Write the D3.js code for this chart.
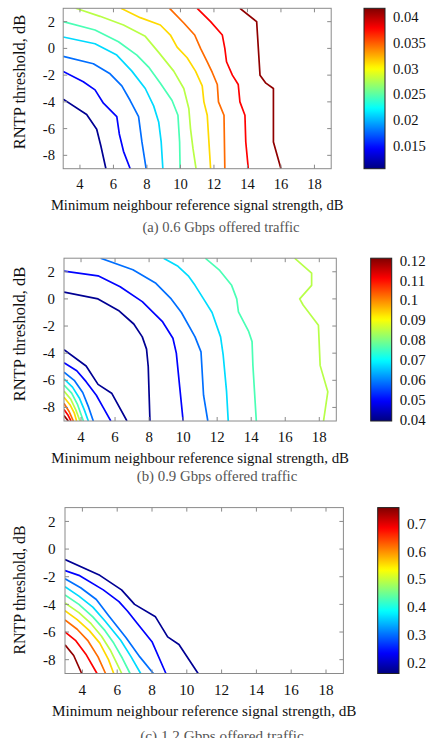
<!DOCTYPE html>
<html><head><meta charset="utf-8">
<script src="https://cdn.jsdelivr.net/npm/d3@7/dist/d3.min.js"></script>
<style>body{margin:0;background:#fff}svg{display:block}text{font-family:"Liberation Serif","Times New Roman",serif}</style>
</head><body><svg id="chart" width="439" height="738"></svg>
<script>
// ---------- data ----------
const xTicks = [4, 6, 8, 10, 12, 14, 16, 18];
const yTicks = [-8, -6, -4, -2, 0, 2];
const xDomain = [3, 19];
const yDomain = [-9, 3];
const xLabel = "Minimum neighbour reference signal strength, dB";
const yLabel = "RNTP threshold, dB";

const aCaption = "(a) 0.6 Gbps offered traffic";
const aRange = [0.0105, 0.0418];
const aCbTicks = [0.015, 0.02, 0.025, 0.03, 0.035, 0.04];
const aLevels = [0.0111, 0.0145, 0.0178, 0.0211, 0.0245, 0.0279, 0.0312, 0.0346, 0.0379, 0.0413];
const aLines = [
  [[[3,-3.8],[4.4,-4.95],[5,-6.05],[5.25,-7.3],[5.55,-9]]],
  [[[3,-1.72],[4.2,-2.5],[4.9,-3.1],[5.4,-4.1],[6.2,-5.1],[6.35,-6.4],[6.6,-7.7],[7,-9]]],
  [[[3,-0.6],[4.8,-1.15],[5.8,-1.9],[6.5,-2.8],[7,-3.9],[7.5,-5.1],[7.7,-7],[7.95,-9]]],
  [[[3,0.85],[4.9,0.35],[6.2,-0.5],[7.1,-1.7],[7.9,-3],[8.4,-4.3],[8.7,-5.5],[8.85,-7],[8.95,-9]]],
  [[[3,2],[4.9,1.38],[6.3,0.5],[7.4,-0.5],[8.1,-1.4],[8.8,-2.6],[9.5,-3.9],[9.85,-5],[9.95,-7],[9.98,-9]]],
  [[[3.75,3],[5.2,2.4],[6.6,1.75],[7.9,0.9],[8.7,-0.3],[9.6,-1.7],[10.2,-3],[10.5,-4.5],[10.6,-6],[10.75,-7.5],[10.93,-9]]],
  [[[6.45,3],[7.6,2.3],[8.8,1.75],[9.4,1],[9.8,0.1],[10.4,-0.7],[10.9,-1.7],[11.3,-2.8],[11.4,-4],[11.6,-5],[11.8,-9]]],
  [[[9.35,3],[10.2,1.9],[10.85,1],[11.2,0],[11.6,-1],[11.9,-1.8],[12.2,-2.7],[12.27,-4],[12.6,-5],[12.65,-9]]],
  [[[11,3],[11.8,2],[12.5,1],[12.65,0],[12.75,-1],[13.1,-2],[13.45,-2.7],[13.55,-4],[13.85,-5],[13.9,-7],[14.05,-9]]],
  [[[13.55,3],[14.55,2],[14.6,1],[14.7,-1],[14.75,-2],[15.1,-2.6],[15.55,-3],[15.55,-7],[16,-9]]]
];

const bCaption = "(b) 0.9 Gbps offered traffic";
const bRange = [0.0395, 0.1212];
const bCbTicks = [0.04, 0.05, 0.06, 0.07, 0.08, 0.09, 0.1, 0.11, 0.12];
const bLevels = [0.0411, 0.0499, 0.0586, 0.0673, 0.0761, 0.0848, 0.0936, 0.1023, 0.1111, 0.1198];
const bLines = [
  [[[3,0.5],[5,0],[6.2,-0.85],[7.1,-1.85],[7.6,-2.8],[7.85,-3.7],[7.95,-5],[8,-7],[8.05,-9]],
   [[3,-3.75],[4.3,-4.95],[5,-6.3],[5.8,-6.95],[6.7,-9]]],
  [[[3,2.05],[5,1.7],[6.3,0.9],[7.6,-0.2],[8.8,-1.7],[9.4,-2.9],[9.6,-4],[9.8,-6.5],[10,-9]],
   [[3,-4.7],[3.75,-5.3],[4.3,-6.1],[4.9,-7.1],[5.3,-8],[5.75,-9]]],
  [[[5.15,3],[7.05,2.15],[8.4,1.15],[9.3,0],[9.9,-1],[10.7,-2.8],[11.05,-3.9],[11.2,-7.1],[11.45,-9]],
   [[3,-5.4],[3.6,-6],[4.1,-6.9],[4.45,-8],[4.72,-9]]],
  [[[8.85,3],[9.7,2.4],[10.3,1.7],[10.7,1],[11.2,0],[11.7,-1],[12.2,-2.8],[12.35,-4.1],[12.55,-6.8],[12.65,-9]],
   [[3,-5.9],[3.5,-6.5],[3.9,-7.3],[4.2,-8.2],[4.43,-9]]],
  [[[11.3,3],[12.15,2.1],[12.85,1],[13.15,0],[13.25,-0.95],[13.85,-2.4],[14.05,-3.15],[14.1,-4.9],[14.3,-9]],
   [[3,-6.35],[3.45,-6.95],[3.8,-7.8],[4.14,-9]]],
  [[[16.55,3],[17.55,1.9],[17.55,1],[16.85,0],[17.05,-0.45],[17.95,-1.95],[18.05,-4.9],[18.5,-6.85],[18.25,-9]],
   [[3,-6.8],[3.4,-7.4],[3.7,-8.2],[3.94,-9]]],
  [[[3,-7.25],[3.35,-7.8],[3.6,-8.4],[3.74,-9]]],
  [[[3,-7.7],[3.3,-8.3],[3.55,-9]]],
  [[[3,-8.15],[3.25,-8.6],[3.41,-9]]],
  [[[3,-8.6],[3.25,-9]]]
];

const cCaption = "(c) 1.2 Gbps offered traffic";
const cRange = [0.16, 0.758];
const cCbTicks = [0.2, 0.3, 0.4, 0.5, 0.6, 0.7];
const cLevels = [0.172, 0.236, 0.300, 0.363, 0.428, 0.492, 0.556, 0.620, 0.684, 0.748];
const cLines = [
  [[[3,-0.75],[5,-1.9],[6.25,-2.95],[7,-4],[8.2,-4.9],[8.9,-6.35],[9.55,-6.9],[10.65,-9]]],
  [[[3,-1.55],[3.8,-1.9],[5.2,-2.95],[6.1,-3.8],[6.6,-4.5],[7.1,-5.3],[8,-6.7],[8.8,-9]]],
  [[[3,-2.15],[3.9,-2.8],[4.8,-3.65],[5.5,-4.8],[6.5,-6.4],[7.3,-7.8],[8.08,-9]]],
  [[[3,-2.72],[3.8,-3.4],[4.6,-4.2],[5.3,-5.2],[6.2,-6.6],[6.8,-7.8],[7.35,-9]]],
  [[[3,-3.32],[3.8,-4.0],[4.6,-4.9],[5.3,-5.9],[5.8,-6.8],[6.3,-7.9],[6.74,-9]]],
  [[[3,-3.9],[3.8,-4.6],[4.5,-5.4],[5.1,-6.3],[5.6,-7.3],[5.95,-8.2],[6.26,-9]]],
  [[[3,-4.45],[3.7,-5.1],[4.4,-5.9],[5,-6.8],[5.5,-8],[5.8,-9]]],
  [[[3,-5.13],[3.7,-5.8],[4.3,-6.6],[4.9,-7.8],[5.33,-9]]],
  [[[3,-6],[3.6,-6.6],[4.2,-7.6],[4.84,-9]]],
  [[[3,-6.93],[3.5,-7.7],[3.96,-9]]]
];

// ---------- drawing ----------
function jet(t) {
  const c = v => Math.round(255 * Math.max(0, Math.min(1, v)));
  return `rgb(${c(1.5 - Math.abs(4*t - 3))},${c(1.5 - Math.abs(4*t - 2))},${c(1.5 - Math.abs(4*t - 1))})`;
}

const svg = d3.select("#chart");
const defs = svg.append("defs");
const grad = defs.append("linearGradient").attr("id", "jetgrad")
  .attr("x1", 0).attr("y1", 1).attr("x2", 0).attr("y2", 0);
d3.range(0, 1.0001, 0.02).forEach(t => grad.append("stop").attr("offset", t).attr("stop-color", jet(t)));

function panel(cfg) {
  const g = svg.append("g");
  const x = d3.scaleLinear().domain(xDomain).range([cfg.x0, cfg.x1]);
  const y = d3.scaleLinear().domain(yDomain).range([cfg.y1, cfg.y0]);
  const cs = d3.scaleLinear().domain(cfg.range).range([0, 1]);
  const fs = cfg.fs;
  const frame = "#8a8a8a";
  const tl = 4;

  // contour lines
  g.append("defs").append("clipPath").attr("id", "clip" + cfg.id)
    .append("rect").attr("x", cfg.x0).attr("y", cfg.y0).attr("width", cfg.x1 - cfg.x0).attr("height", cfg.y1 - cfg.y0);
  const line = d3.line().x(d => x(d[0])).y(d => y(d[1]));
  const lg = g.append("g").attr("clip-path", `url(#clip${cfg.id})`);
  cfg.lines.forEach((polys, i) => {
    polys.forEach(p => {
      lg.append("path").attr("d", line(p)).attr("fill", "none")
        .attr("stroke", jet(cs(cfg.levels[i]))).attr("stroke-width", 1.7)
        .attr("stroke-linejoin", "round");
    });
  });

  // frame + inward ticks
  g.append("rect").attr("x", cfg.x0).attr("y", cfg.y0).attr("width", cfg.x1 - cfg.x0).attr("height", cfg.y1 - cfg.y0)
    .attr("fill", "none").attr("stroke", frame).attr("stroke-width", 1);
  xTicks.forEach(v => {
    g.append("line").attr("x1", x(v)).attr("x2", x(v)).attr("y1", cfg.y1).attr("y2", cfg.y1 - tl).attr("stroke", frame);
    g.append("line").attr("x1", x(v)).attr("x2", x(v)).attr("y1", cfg.y0).attr("y2", cfg.y0 + tl).attr("stroke", frame);
    g.append("text").attr("x", x(v)).attr("y", cfg.y1 + cfg.tickDy).attr("text-anchor", "middle")
      .attr("font-size", fs).attr("fill", "#111").text(v);
  });
  yTicks.forEach(v => {
    g.append("line").attr("x1", cfg.x0).attr("x2", cfg.x0 + tl).attr("y1", y(v)).attr("y2", y(v)).attr("stroke", frame);
    g.append("line").attr("x1", cfg.x1).attr("x2", cfg.x1 - tl).attr("y1", y(v)).attr("y2", y(v)).attr("stroke", frame);
    g.append("text").attr("x", cfg.yTickX).attr("y", y(v) + 0.34 * fs).attr("text-anchor", "end")
      .attr("font-size", fs).attr("fill", "#111").text(v);
  });

  // axis labels and caption
  g.append("text").attr("x", (cfg.x0 + cfg.x1) / 2).attr("y", cfg.xLabelY).attr("text-anchor", "middle")
    .attr("font-size", fs).attr("fill", "#111").text(xLabel);
  g.append("text").attr("transform", `translate(${cfg.yLabelX},${cfg.yLabelY}) rotate(-90)`).attr("text-anchor", "middle")
    .attr("font-size", cfg.yfs).attr("fill", "#111").text(yLabel);
  g.append("text").attr("x", cfg.capX).attr("y", cfg.capY).attr("text-anchor", "middle")
    .attr("font-size", fs).attr("fill", "#555").text(cfg.caption);

  // colorbar
  const cy = d3.scaleLinear().domain(cfg.range).range([cfg.y1, cfg.y0]);
  g.append("rect").attr("x", cfg.cbX).attr("y", cfg.y0).attr("width", cfg.cbW).attr("height", cfg.y1 - cfg.y0)
    .attr("fill", "url(#jetgrad)").attr("stroke", "#222").attr("stroke-width", 1);
  cfg.cbTicks.forEach(v => {
    g.append("text").attr("x", cfg.cbX + cfg.cbW + 8).attr("y", cy(v) + 0.34 * fs)
      .attr("font-size", fs).attr("fill", "#111").text(v);
  });
}

panel({id: "a", x0: 63.2, x1: 331.2, y0: 8.3, y1: 168.7, fs: 14.6, yfs: 16.5, tickDy: 20.6, yTickX: 55,
  xLabelY: 210, yLabelX: 25, yLabelY: 82, capX: 221, capY: 232.2, cbX: 364, cbW: 21,
  range: aRange, cbTicks: aCbTicks, levels: aLevels, lines: aLines, caption: aCaption});
panel({id: "b", x0: 64, x1: 336.3, y0: 258.2, y1: 421, fs: 14.85, yfs: 16.5, tickDy: 20.7, yTickX: 55,
  xLabelY: 463.3, yLabelX: 25, yLabelY: 334, capX: 217, capY: 480.6, cbX: 370.7, cbW: 21,
  range: bRange, cbTicks: bCbTicks, levels: bLevels, lines: bLines, caption: bCaption});
panel({id: "c", x0: 65, x1: 343.4, y0: 507.6, y1: 673.5, fs: 15.2, yfs: 15.8, tickDy: 21.7, yTickX: 55.7,
  xLabelY: 716.1, yLabelX: 25, yLabelY: 590, capX: 222, capY: 741, cbX: 377.7, cbW: 21.3,
  range: cRange, cbTicks: cCbTicks, levels: cLevels, lines: cLines, caption: cCaption});
</script>
</body></html>
